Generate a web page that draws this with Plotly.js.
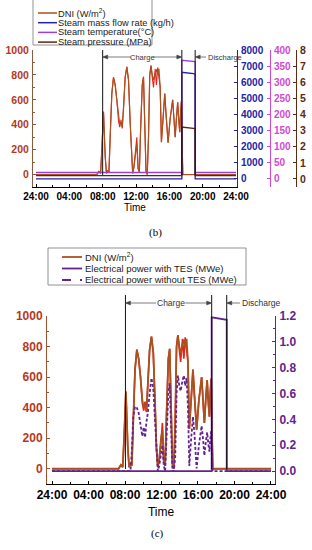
<!DOCTYPE html>
<html><head><meta charset="utf-8">
<script src="https://cdn.plot.ly/plotly-3.0.1.min.js"></script>
<style>html,body{margin:0;padding:0;background:#fff}#chart{width:312px;height:550px}</style>
</head><body><div id="chart"></div>
<script>
// ---------------- data ----------------
const timeH = [0, 7.3, 7.55, 7.75, 7.9, 8.1, 8.3, 8.45, 8.6, 8.75, 8.9, 9.1, 9.3, 9.5, 9.7, 9.9, 10.05, 10.2, 10.35, 10.5, 10.7, 10.9, 11.1, 11.3, 11.45, 11.6, 11.75, 11.95, 12.1, 12.25, 12.4, 12.55, 12.75, 12.9, 13.05, 13.2, 13.35, 13.5, 13.65, 13.8, 13.95, 14.1, 14.3, 14.45, 14.6, 14.75, 14.9, 15.05, 15.25, 15.45, 15.6, 15.85, 16.1, 16.4, 16.55, 16.7, 16.85, 17.0, 17.15, 17.25, 17.35, 17.45, 17.55, 17.62, 24];
const dniBrown = [0, 0, 25, 10, 200, 505, 150, 10, 30, 20, 300, 650, 780, 720, 600, 450, 400, 420, 380, 520, 780, 865, 760, 420, 130, 10, 60, 200, 250, 50, 20, 350, 720, 785, 450, 30, 0, 300, 800, 875, 800, 760, 810, 845, 800, 850, 700, 260, 450, 650, 500, 255, 450, 600, 450, 300, 450, 580, 420, 340, 500, 590, 200, 0, 0];
const dniRed = [0, 0, 25, 10, 200, 505, 150, 10, 30, 20, 300, 650, 780, 720, 600, 430, 380, 440, 370, 520, 780, 865, 760, 420, 130, 10, 60, 180, 300, 50, 20, 350, 720, 785, 450, 30, 0, 300, 800, 875, 780, 700, 850, 720, 860, 760, 700, 260, 430, 650, 480, 255, 450, 600, 450, 300, 450, 580, 420, 340, 500, 590, 200, 0, 0];
const powerNoTES = [0, 0, 0, 0, 0, 0, 0, 0, 0, 0.15, 0.42, 0.5, 0.49, 0.45, 0.36, 0.27, 0.34, 0.26, 0.38, 0.45, 0.6, 0.72, 0.64, 0.38, 0.1, 0, 0.04, 0.14, 0.2, 0.04, 0, 0.25, 0.6, 0.68, 0.35, 0, 0, 0.1, 0.6, 0.74, 0.66, 0.62, 0.7, 0.74, 0.66, 0.72, 0.5, 0.04, 0.25, 0.42, 0.3, 0.02, 0.2, 0.35, 0.25, 0.12, 0.22, 0.3, 0.2, 0.15, 0.25, 0.31, 0.05, 0, 0];

const stepTime = [0, 17.5, 17.5, 19.1, 19.1, 24];
const steamFlow = [0, 0, 6620, 6520, 0, 0];
const steamTemp = [20, 20, 368, 364, 20, 20];
const steamPress = [0.2, 0.2, 3.22, 3.12, 0.2, 0.2];

const powerTime = [0, 17.5, 17.5, 19.15, 19.15, 24];
const powerWithTES = [0, 0, 1.19, 1.17, 0, 0];

const xTickVals = [0, 4, 8, 12, 16, 20, 24];
const xTickText = ['24:00', '04:00', '08:00', '12:00', '16:00', '20:00', '24:00'];
const eventsB = [8.0, 17.5, 19.1];
const eventsC = [8.05, 17.5, 19.15];

const legendB = ['DNI (W/m<sup>2</sup>)', 'Steam mass flow rate (kg/h)', 'Steam temperature(°C)', 'Steam pressure (MPa)'];
const legendC = ['DNI (W/m<sup>2</sup>)', 'Electrical power with TES (MWe)', 'Electrical power without TES (MWe)'];

// ---------------- style ----------------
const W = 312, H = 550;
const fx = p => p / W, fy = p => 1 - p / H;
const FONT = 'Arial, "Liberation Sans", sans-serif';
const C = {
  red: '#e8231c', brown: '#a9521f', blue: '#2323a6', temp: '#9a40d4', tempAx: '#d04ad0',
  press: '#5a2a12', dniAx: '#b5381c', purple: '#63238f'
};

const traces = [
  {x: timeH, y: dniRed, xaxis: 'x', yaxis: 'y', mode: 'lines', line: {color: C.red, width: 1.1}},
  {x: timeH, y: dniBrown, xaxis: 'x', yaxis: 'y', mode: 'lines', line: {color: C.brown, width: 1.2}},
  {x: stepTime, y: steamFlow, xaxis: 'x', yaxis: 'y2', mode: 'lines', line: {color: C.blue, width: 1.3}},
  {x: stepTime, y: steamTemp, xaxis: 'x', yaxis: 'y3', mode: 'lines', line: {color: C.temp, width: 1.3}},
  {x: stepTime, y: steamPress, xaxis: 'x', yaxis: 'y4', mode: 'lines', line: {color: C.press, width: 1.3}},
  {x: timeH, y: dniRed, xaxis: 'x2', yaxis: 'y5', mode: 'lines', line: {color: C.red, width: 1.6}},
  {x: timeH, y: dniBrown, xaxis: 'x2', yaxis: 'y5', mode: 'lines', line: {color: C.brown, width: 1.8}},
  {x: timeH, y: powerNoTES, xaxis: 'x2', yaxis: 'y6', mode: 'lines', line: {color: C.purple, width: 1.8, dash: '3px,2px'}},
  {x: powerTime, y: powerWithTES, xaxis: 'x2', yaxis: 'y6', mode: 'lines', line: {color: C.purple, width: 1.8}}
];

function yax(o) {
  return Object.assign({
    showgrid: false, zeroline: false, showline: true, linewidth: 1, ticks: 'inside', ticklen: 3,
    ticklabelstandoff: 1
  }, o);
}
function xax(o, size) {
  return Object.assign({
    tickmode: 'array', tickvals: xTickVals, ticktext: xTickText, ticks: 'inside', ticklen: 3, tickcolor: '#000',
    showline: true, linecolor: '#000', linewidth: 1, showgrid: false, zeroline: false,
    tickfont: {family: FONT, size: size, color: '#000', weight: 'bold'},
    minor: {tickmode: 'linear', tick0: 0, dtick: 2, ticks: 'inside', ticklen: 2, tickcolor: '#000'}
  }, o);
}

const layout = {
  width: W, height: H, margin: {l: 0, r: 0, t: 0, b: 0},
  paper_bgcolor: '#fff', plot_bgcolor: 'rgba(0,0,0,0)', showlegend: false,
  font: {family: FONT},
  xaxis: xax({domain: [fx(33), fx(237)], range: [-0.36, 24.12], anchor: 'y',
    title: {text: 'Time', font: {family: FONT, size: 10, color: '#000'}, standoff: 1}}, 10),
  yaxis: yax({domain: [fy(187), fy(50)], range: [-100, 1000], tick0: 0, dtick: 200, linecolor: '#8b5a3c', tickcolor: '#8b5a3c',
    tickfont: {family: FONT, size: 10.5, color: C.dniAx, weight: 'bold'},
    minor: {tick0: 0, dtick: 100, ticks: 'inside', ticklen: 2, tickcolor: '#8b5a3c'}}),
  yaxis2: yax({overlaying: 'y', side: 'right', anchor: 'x', range: [-500, 8000], tick0: 0, dtick: 1000,
    linecolor: C.blue, tickcolor: C.blue, tickfont: {family: FONT, size: 10, color: C.blue, weight: 'bold'}}),
  yaxis3: yax({overlaying: 'y', side: 'right', anchor: 'free', position: fx(270), range: [-25, 400], tick0: 0, dtick: 50,
    linecolor: C.tempAx, tickcolor: C.tempAx, tickfont: {family: FONT, size: 10, color: C.tempAx, weight: 'bold'}}),
  yaxis4: yax({overlaying: 'y', side: 'right', anchor: 'free', position: fx(296), range: [-0.5, 8], tick0: 0, dtick: 1,
    linecolor: C.press, tickcolor: C.press, tickfont: {family: FONT, size: 10.5, color: C.press, weight: 'bold'}}),
  xaxis2: xax({domain: [fx(47), fx(275)], range: [-0.548, 24.44], anchor: 'y5',
    title: {text: 'Time', font: {family: FONT, size: 12, color: '#000'}, standoff: 6}}, 12),
  yaxis5: yax({domain: [fy(484), fy(316)], anchor: 'x2', range: [-100, 1000], tick0: 0, dtick: 200,
    linecolor: '#a0522d', tickcolor: '#a0522d', tickfont: {family: FONT, size: 12, color: C.dniAx, weight: 'bold'},
    minor: {tick0: 0, dtick: 100, ticks: 'inside', ticklen: 2, tickcolor: '#a0522d'}}),
  yaxis6: yax({overlaying: 'y5', side: 'right', anchor: 'x2', range: [-0.1, 1.2], tick0: 0, dtick: 0.2, tickformat: '.1f',
    linecolor: C.purple, tickcolor: C.purple, tickfont: {family: FONT, size: 12, color: C.purple, weight: 'bold'},
    minor: {tick0: 0, dtick: 0.1, ticks: 'inside', ticklen: 2, tickcolor: C.purple}}),
  shapes: [],
  annotations: []
};

// event lines
eventsB.forEach(t => layout.shapes.push({type: 'line', xref: 'x', yref: 'paper', x0: t, x1: t, y0: fy(175), y1: fy(50), line: {color: '#111', width: 1}}));
eventsC.forEach(t => layout.shapes.push({type: 'line', xref: 'x2', yref: 'paper', x0: t, x1: t, y0: fy(469), y1: fy(295), line: {color: '#111', width: 1}}));

// arrows (shaft + head as shapes) + labels
function arrow(xref, head, tail, ypx) {
  layout.shapes.push({type: 'line', xref: xref, yref: 'paper', x0: tail, x1: head, y0: fy(ypx), y1: fy(ypx),
    line: {color: '#444', width: 0.7}});
  const dir = tail > head ? 1 : -1;
  layout.shapes.push({type: 'path', xref: xref, yref: 'paper', xsizemode: 'pixel', ysizemode: 'pixel',
    xanchor: head, yanchor: fy(ypx),
    path: 'M0,0 L' + (5 * dir) + ',2 L' + (5 * dir) + ',-2 Z',
    fillcolor: '#444', line: {color: '#444', width: 0.5}});
}
function label(xref, x, ypx, text, size, anchor) {
  layout.annotations.push({xref: xref, yref: 'paper', x: x, y: fy(ypx), text: text, showarrow: false,
    xanchor: anchor, yanchor: 'middle', font: {family: FONT, size: size, color: '#333'}});
}
arrow('x', eventsB[0], 11.4, 57); arrow('x', eventsB[1], 14.1, 57); arrow('x', eventsB[2], 20.4, 57);
label('x', 12.75, 57, 'Charge', 7.5, 'center'); label('x', 20.4, 57, 'Discharge', 7.5, 'left');
arrow('x2', eventsC[0], 11.4, 303); arrow('x2', eventsC[1], 14.6, 303); arrow('x2', eventsC[2], 20.6, 303);
label('x2', 13.0, 303, 'Charge', 8.5, 'center'); label('x2', 20.6, 303, 'Discharge', 8.5, 'left');

// manual legends
function legendBox(x0, x1, y0, y1) {
  layout.shapes.push({type: 'rect', xref: 'paper', yref: 'paper', x0: fx(x0), x1: fx(x1), y0: fy(y1), y1: fy(y0),
    line: {color: '#777', width: 0.8}, fillcolor: 'rgba(255,255,255,0)'});
}
function legendItem(lx0, lx1, tx, ypx, color, dash, width, text, size) {
  layout.shapes.push({type: 'line', xref: 'paper', yref: 'paper', x0: fx(lx0), x1: fx(lx1), y0: fy(ypx), y1: fy(ypx),
    line: {color: color, width: width, dash: dash}});
  layout.annotations.push({xref: 'paper', yref: 'paper', x: fx(tx), y: fy(ypx), text: text, showarrow: false,
    xanchor: 'left', yanchor: 'middle', font: {family: FONT, size: size, color: '#222'}});
}
legendBox(33, 152, -3, 45);
const colB = [C.brown, C.blue, C.temp, C.press];
legendB.forEach((t, i) => legendItem(38, 57, 56, 13 + i * 9.7, colB[i], 'solid', 1.5, t, 9.3));
legendBox(48, 246, 248, 285);
const colC = [C.brown, C.purple, C.purple];
const dashC = ['solid', 'solid', 'dash'];
legendC.forEach((t, i) => legendItem(62, 82, 83, 257 + i * 11.5, colC[i], dashC[i], 1.8, t, 9.5));

// panel captions
layout.annotations.push({xref: 'paper', yref: 'paper', x: fx(155), y: fy(232.5), text: '(b)', showarrow: false,
  xanchor: 'center', yanchor: 'middle', font: {family: '"Liberation Serif", "Times New Roman", serif', size: 11, color: '#000'}});
layout.annotations.push({xref: 'paper', yref: 'paper', x: fx(157), y: fy(533), text: '(c)', showarrow: false,
  xanchor: 'center', yanchor: 'middle', font: {family: '"Liberation Serif", "Times New Roman", serif', size: 11, color: '#000'}});

Plotly.newPlot('chart', traces, layout, {staticPlot: true, displayModeBar: false});
</script>
</body></html>
